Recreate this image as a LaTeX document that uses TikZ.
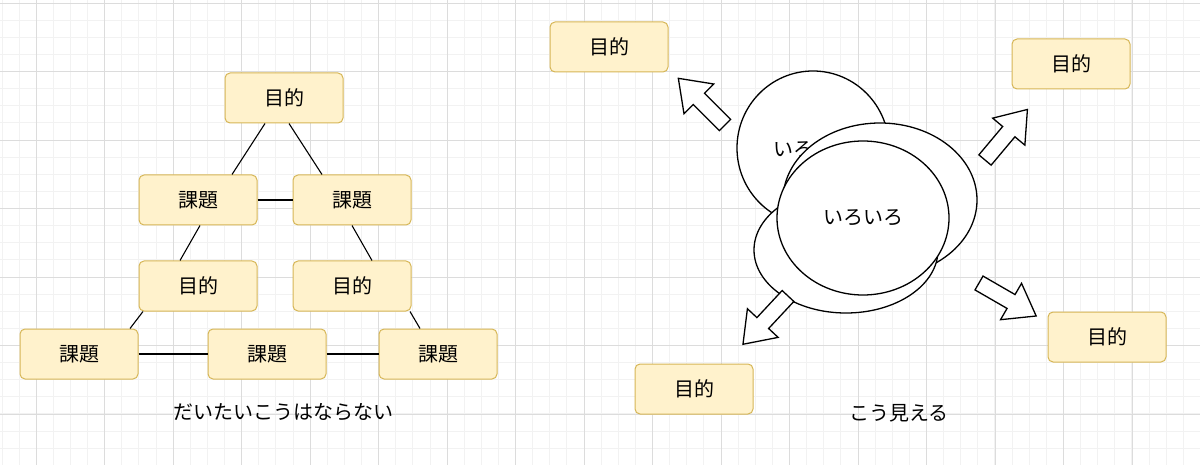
\documentclass[tikz,border=0pt]{standalone}
\usepackage{fontspec}
\setmainfont{Noto Sans CJK JP}
\usetikzlibrary{calc}
\begin{document}
\begin{tikzpicture}[x=1pt,y=-1pt,
  box/.style={draw=boxline,fill=boxfill,rounded corners=5pt,minimum width=118pt,minimum height=50pt,line width=1pt,font=\fontsize{20}{24}\selectfont},
  ell/.style={draw=black,fill=white,line width=1.3pt},
  conn/.style={draw=black,line width=1.1pt},
  lbl/.style={font=\fontsize{20}{24}\selectfont}]
\definecolor{boxfill}{HTML}{FFF2CC}
\definecolor{boxline}{HTML}{D6B656}
\definecolor{gminor}{HTML}{F2F2F2}
\definecolor{gmajor}{HTML}{DCDCDC}
\fill[white] (0,0) rectangle (1200,465);
\useasboundingbox (0,0) rectangle (1200,465);
\foreach \i in {0,...,70} {
  \draw[gminor,line width=0.8pt] ({1.9+17.12*\i},0) -- ({1.9+17.12*\i},465);
}
\foreach \i in {0,...,28} {
  \draw[gminor,line width=0.8pt] (0,{3+17.12*\i}) -- (1200,{3+17.12*\i});
}
\foreach \i in {0,...,17} {
  \draw[gmajor,line width=0.8pt] ({36.1+68.5*\i},0) -- ({36.1+68.5*\i},465);
}
\foreach \i in {0,...,6} {
  \draw[gmajor,line width=0.8pt] (0,{3+68.5*\i}) -- (1200,{3+68.5*\i});
}
% left triangle
\node[box] (a) at (284,98) {目的};
\node[box] (b1) at (198,200) {課題};
\node[box] (b2) at (352,200) {課題};
\node[box] (c1) at (198,286) {目的};
\node[box] (c2) at (352,286) {目的};
\node[box] (d1) at (79,354) {課題};
\node[box] (d2) at (267,354) {課題};
\node[box] (d3) at (438,354) {課題};
\draw[conn] ($(a.south)+(-19,0)$) -- ($(b1.north)+(34,0)$);
\draw[conn] ($(a.south)+(5,0)$) -- ($(b2.north)+(-30,0)$);
\draw[conn] (b1.east) -- (b2.west);
\draw[conn] ($(b1.south)+(2,0)$) -- ($(c1.north)+(-18,0)$);
\draw[conn] ($(b2.south)+(0,0)$) -- ($(c2.north)+(20,0)$);
\draw[conn] ($(c1.south)+(-55,0)$) -- ($(d1.north)+(51,0)$);
\draw[conn] ($(c2.south)+(58,0)$) -- ($(d3.north)+(-18,0)$);
\draw[conn] (d1.east) -- (d2.west);
\draw[conn] (d2.east) -- (d3.west);
\node[lbl] (t1) at (283,412) {だいたいこうはならない};
% right side
\node[box] (e1) at (609,47) {目的};
\node[box] (e2) at (1071,64) {目的};
\node[box] (e3) at (1107,337) {目的};
\node[box] (e4) at (694,389) {目的};
\node[lbl] (t2) at (899,413) {こう見える};
\draw[ell] (813,148) ellipse[x radius=76,y radius=77];
\node[lbl] (i1) at (813,150) {いろいろ};
\draw[ell] (880,200) ellipse[x radius=97,y radius=77];
\draw[ell] (846,250) ellipse[x radius=92,y radius=63];
\draw[ell] (863,218) ellipse[x radius=86,y radius=77];
\node[lbl] (i2) at (863,218) {いろいろ};
% block arrows
\foreach \sx/\sy/\ang in {725/125/135, 985/160/50, 979/283/-30, 788/296/-133} {
  \draw[ell,line width=1.3pt,shift={(\sx,\sy)},rotate=\ang]
    (0,-8) -- (37,-8) -- (37,-21) -- (66,0) -- (37,21) -- (37,8) -- (0,8) -- cycle;
}
\end{tikzpicture}
\end{document}
